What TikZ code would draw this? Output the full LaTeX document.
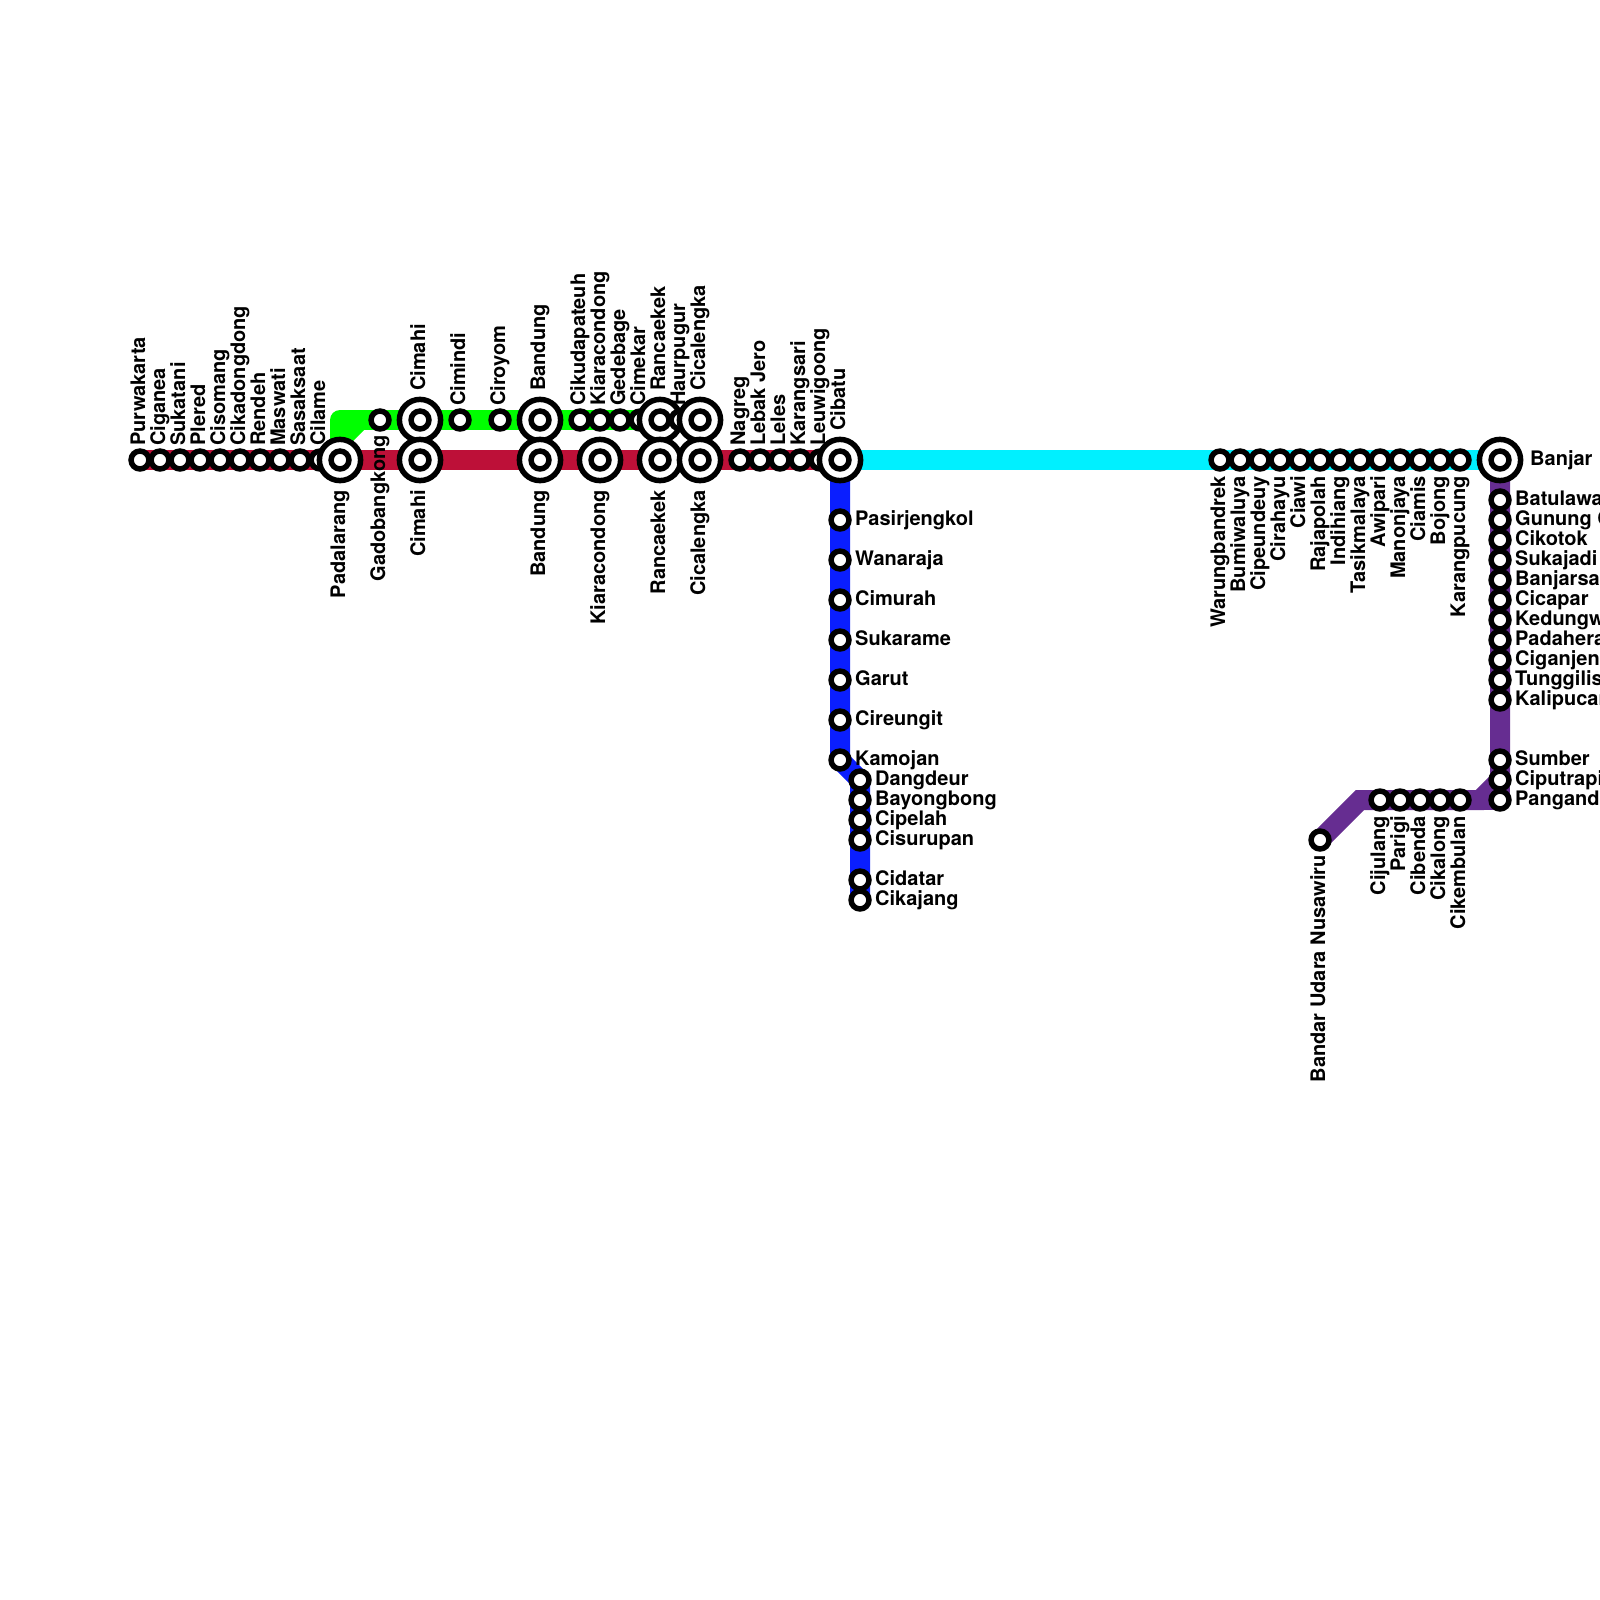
\documentclass[tikz,border=0pt]{standalone}
\usepackage{fontspec}
\setmainfont{TeX Gyre Heros}
\usetikzlibrary{backgrounds}
\definecolor{linered}{HTML}{BD1038}
\definecolor{linegreen}{HTML}{00FF00}
\definecolor{linecyan}{HTML}{00F0FF}
\definecolor{lineblue}{HTML}{0A1EFF}
\definecolor{linepurple}{HTML}{662D91}
\tikzset{
  stn/.style={circle,draw=black,fill=white,line width=5.5pt,minimum size=17.9pt,inner sep=0pt},
  bigstn/.style={circle,draw=black,fill=white,line width=5.5pt,minimum size=41.2pt,inner sep=0pt},
  toplbl/.style={font=\fontsize{20}{24}\selectfont\bfseries,inner sep=0pt,rotate=90,anchor=base west},
  botlbl/.style={font=\fontsize{20}{24}\selectfont\bfseries,inner sep=0pt,rotate=90,anchor=base east},
  rgtlbl/.style={font=\fontsize{20}{24}\selectfont\bfseries,inner sep=0pt,anchor=base west},
  railline/.style={line width=20pt}
}
\begin{document}
\begin{tikzpicture}[x=1pt,y=-1pt]
\useasboundingbox (0,0) rectangle (1600,1600);
\clip (0,0) rectangle (1600,1600);
% small stations
\foreach \x/\nm/\lab in {140/purwakarta/Purwakarta,160/ciganea/Ciganea,180/sukatani/Sukatani,200/plered/Plered,220/cisomang/Cisomang,240/cikadongdong/Cikadongdong,260/rendeh/Rendeh,280/maswati/Maswati,300/sasaksaat/Sasaksaat,320/cilame/Cilame,740/nagreg/Nagreg,760/lebakjero/{Lebak Jero},780/leles/Leles,800/karangsari/Karangsari,820/leuwigoong/Leuwigoong}{
  \node[stn] (\nm) at (\x,460) {};
  \node[toplbl] (\nm-lbl) at (\x+5,446) {\lab};
}
\foreach \x/\nm/\lab in {460/cimindi/Cimindi,500/ciroyom/Ciroyom,580/cikudapateuh/Cikudapateuh,600/kiaracondong-g/Kiaracondong,620/gedebage/Gedebage,640/cimekar/Cimekar}{
  \node[stn] (\nm) at (\x,420) {};
  \node[toplbl] (\nm-lbl) at (\x+5,406) {\lab};
}
\node[stn] (gadobangkong) at (380,420) {};
\node[botlbl] (gadobangkong-lbl) at (385,435) {Gadobangkong};
\foreach \x/\nm/\lab in {1220/warungbandrek/Warungbandrek,1240/bumiwaluya/Bumiwaluya,1260/cipeundeuy/Cipeundeuy,1280/cirahayu/Cirahayu,1300/ciawi/Ciawi,1320/rajapolah/Rajapolah,1340/indihiang/Indihiang,1360/tasikmalaya/Tasikmalaya,1380/awipari/Awipari,1400/manonjaya/Manonjaya,1420/ciamis/Ciamis,1440/bojong/Bojong,1460/karangpucung/Karangpucung}{
  \node[stn] (\nm) at (\x,460) {};
  \node[botlbl] (\nm-lbl) at (\x+5,476) {\lab};
}
\foreach \x/\nm/\lab in {1380/cijulang/Cijulang,1400/parigi/Parigi,1420/cibenda/Cibenda,1440/cikalong/Cikalong,1460/cikembulan/Cikembulan}{
  \node[stn] (\nm) at (\x,800) {};
  \node[botlbl] (\nm-lbl) at (\x+5,816) {\lab};
}
\node[stn] (nusawiru) at (1320,840) {};
\node[botlbl] (nusawiru-lbl) at (1325,855) {Bandar Udara Nusawiru};
\foreach \y/\nm/\lab in {520/pasirjengkol/Pasirjengkol,560/wanaraja/Wanaraja,600/cimurah/Cimurah,640/sukarame/Sukarame,680/garut/Garut,720/cireungit/Cireungit,760/kamojan/Kamojan}{
  \node[stn] (\nm) at (840,\y) {};
  \node[rgtlbl] (\nm-lbl) at (855,\y+5) {\lab};
}
\foreach \y/\nm/\lab in {780/dangdeur/Dangdeur,800/bayongbong/Bayongbong,820/cipelah/Cipelah,840/cisurupan/Cisurupan,880/cidatar/Cidatar,900/cikajang/Cikajang}{
  \node[stn] (\nm) at (860,\y) {};
  \node[rgtlbl] (\nm-lbl) at (875,\y+5) {\lab};
}
\foreach \y/\nm/\lab in {500/batulawang/Batulawang,520/gunungcupu/{Gunung Cupu},540/cikotok/Cikotok,560/sukajadi/Sukajadi,580/banjarsari/Banjarsari,600/cicapar/Cicapar,620/kedungwaru/Kedungwaru,640/padaherang/Padaherang,660/ciganjeng/Ciganjeng,680/tunggilis/Tunggilis,700/kalipucang/Kalipucang,760/sumber/Sumber,780/ciputrapinggan/Ciputrapinggan,800/pangandaran/Pangandaran}{
  \node[stn] (\nm) at (1500,\y) {};
  \node[rgtlbl] (\nm-lbl) at (1515,\y+5) {\lab};
}
% interchange stations
\foreach \x/\nm/\lab in {420/cimahi-g/Cimahi,540/bandung-g/Bandung,660/rancaekek-g/Rancaekek}{
  \node[bigstn] (\nm) at (\x,420) {};
  \node[stn] (\nm-in) at (\nm) {};
  \node[toplbl] (\nm-lbl) at (\x+5,391) {\lab};
}
\node[stn] (haurpugur) at (680,420) {};
\node[toplbl] (haurpugur-lbl) at (685,406) {Haurpugur};
\node[bigstn] (cicalengka-g) at (700,420) {};
\node[stn] (cicalengka-g-in) at (cicalengka-g) {};
\node[toplbl] (cicalengka-g-lbl) at (705,391) {Cicalengka};
\foreach \x/\nm/\lab in {340/padalarang/Padalarang,420/cimahi/Cimahi,540/bandung/Bandung,600/kiaracondong/Kiaracondong,660/rancaekek/Rancaekek,700/cicalengka/Cicalengka}{
  \node[bigstn] (\nm) at (\x,460) {};
  \node[stn] (\nm-in) at (\nm) {};
  \node[botlbl] (\nm-lbl) at (\x+5,490) {\lab};
}
\node[bigstn] (cibatu) at (840,460) {};
\node[stn] (cibatu-in) at (cibatu) {};
\node[toplbl] (cibatu-lbl) at (845,431) {Cibatu};
\node[bigstn] (banjar) at (1500,460) {};
\node[stn] (banjar-in) at (banjar) {};
\node[rgtlbl] (banjar-lbl) at (1530,465) {Banjar};
% lines
\coordinate (greenup) at (340,420);
\coordinate (greenbend) at (340,440);
\coordinate (greenend) at (360,420);
\coordinate (purplebend) at (1360,800);
\coordinate (purplejoin) at (1480,800);
\begin{pgfonlayer}{background}
  \draw[railline,linegreen,line join=round] (padalarang.center) -- (greenup) -- (rancaekek-g.center);
  \draw[railline,linegreen] (greenbend) -- (greenend);
  \draw[railline,lineblue] (cibatu.center) -- (kamojan.center) -- (dangdeur.center) -- (cikajang.center);
  \draw[railline,linepurple] (banjar.center) -- (ciputrapinggan.center) -- (purplejoin) -- (purplebend) -- (nusawiru.center);
  \draw[railline,linepurple] (purplejoin) -- (pangandaran.center);
  \draw[railline,linepurple] (ciputrapinggan.center) -- (pangandaran.center);
  \draw[railline,linecyan] (cibatu.center) -- (banjar.center);
  \draw[railline,linered] (purwakarta.center) -- (cibatu.center);
\end{pgfonlayer}
\end{tikzpicture}
\end{document}
